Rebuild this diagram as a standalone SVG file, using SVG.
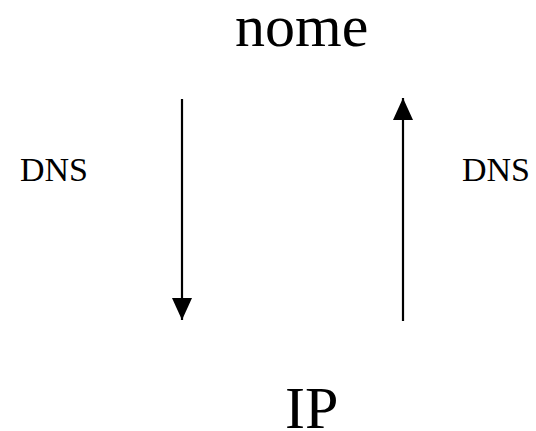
<svg xmlns="http://www.w3.org/2000/svg" width="536" height="431" viewBox="0 0 536 431">
<style>
text{font-family:"Liberation Serif","Times New Roman",serif;fill:#000}
.big{font-size:60px}
.lbl{font-size:34px}
.conn{stroke:#000;stroke-width:2.2;fill:none}
</style>
<defs>
<marker id="ah" viewBox="0 0 22 20" refX="22" refY="10" markerWidth="22" markerHeight="20" markerUnits="userSpaceOnUse" orient="auto">
<path d="M0,0 L22,10 L0,20 Z" fill="#000"/>
</marker>
</defs>
<rect width="536" height="431" fill="#fff"/>
<g id="nome"><text class="big" x="235" y="46">nome</text></g>
<g id="ip"><text class="big" x="285" y="428">IP</text></g>
<g id="dns-left"><text class="lbl" x="20" y="181">DNS</text></g>
<g id="dns-right"><text class="lbl" x="462" y="181">DNS</text></g>
<g id="connectors">
<line class="conn" x1="182" y1="99" x2="182" y2="320" marker-end="url(#ah)"/>
<line class="conn" x1="403" y1="321" x2="403" y2="98" marker-end="url(#ah)"/>
</g>
</svg>
